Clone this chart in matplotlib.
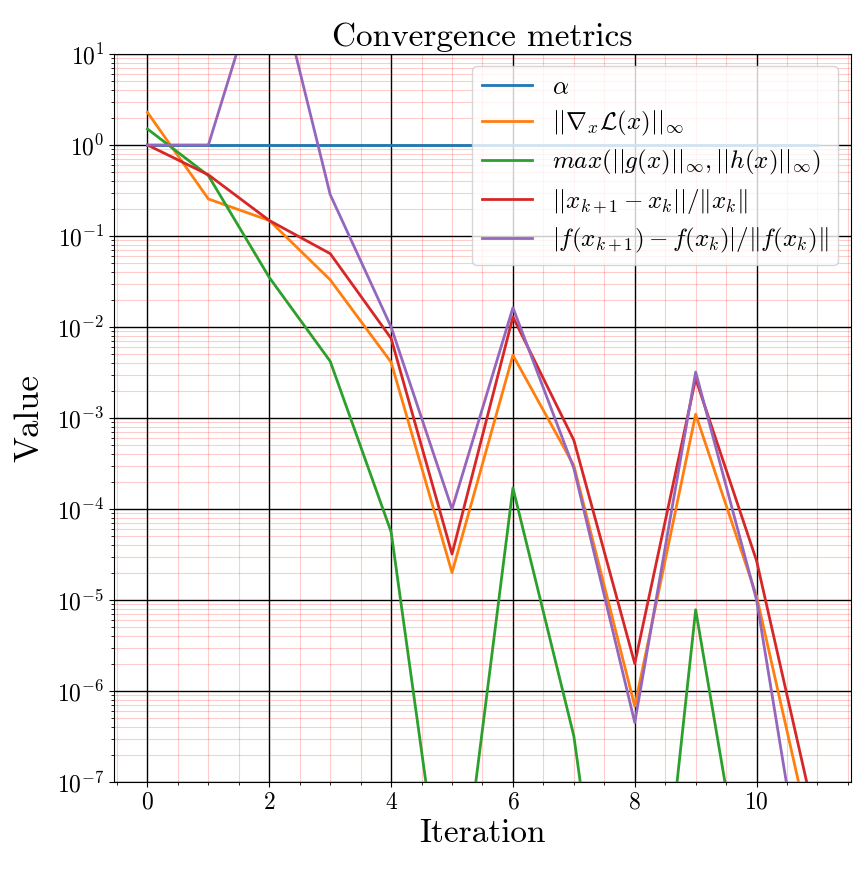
import matplotlib
matplotlib.use("Agg")
import matplotlib.pyplot as plt

plt.rcParams['font.family'] = 'serif'
plt.rcParams['font.serif'] = ['cmr10']
plt.rcParams['mathtext.fontset'] = 'cm'
plt.rcParams['axes.formatter.use_mathtext'] = True

# Valores
iteracoes = [0, 1, 2, 3, 4, 5, 6, 7, 8, 9, 10, 11]
alpha = [1, 1, 1, 1, 1, 1, 1, 1, 1, 1, 1, 1]
grad_lag = [2.28, 0.255, 0.148, 0.033, 0.0041, 2.0e-5, 4.9e-3, 3.0e-4, 6.8e-7, 1.1e-3, 1.1e-5, 1.2e-8]
viol = [1.5, 0.46, 0.035, 0.0042, 5.6e-5, 8.5e-10, 1.7e-4, 3.2e-7, 5e-12, 7.8e-6, 9e-10, 1e-11]
passo_x = [1.0, 0.47, 0.148, 0.064, 0.0075, 3.2e-5, 0.0129, 5.7e-4, 2.0e-6, 2.7e-3, 2.7e-5, 3e-8]
passo_f = [1.0, 1.0, 148, 0.285, 0.01, 1e-4, 0.0163, 2.8e-4, 4.5e-7, 3.2e-3, 1.0e-5, 8e-10]

rotulos = [r'$\alpha$',
           r'$||\nabla_x \mathcal{L}(x)||_\infty$',
           r'$max(||g(x)||_\infty, ||h(x)||_\infty)$',
           r'$||x_{k+1} - x_k||/\|x_k\|$',
           r'$|f(x_{k+1}) - f(x_k)|/\|f(x_k)\|$']

fig = plt.figure(figsize=(8.68, 8.76), dpi=100)
ax = fig.add_axes([0.1313, 0.1073, 0.8491, 0.8311])

for serie, rot in zip([alpha, grad_lag, viol, passo_x, passo_f], rotulos):
    ax.plot(iteracoes, serie, label=rot, lw=2)

ax.set_yscale('log')
ax.set_ylim(1e-7, 1e1)
ax.minorticks_on()
ax.grid(which='major', color='black', lw=1)
ax.grid(which='minor', color='red', lw=0.8, alpha=0.2)
ax.tick_params(labelsize=17)
ax.set_xlabel('Iteration', fontsize=24)
ax.set_ylabel('Value', fontsize=25, labelpad=8)
ax.set_title('Convergence metrics', fontsize=24)
ax.legend(loc='upper right', fontsize=18, labelspacing=0.4)

fig.savefig('out.png', dpi=100)
